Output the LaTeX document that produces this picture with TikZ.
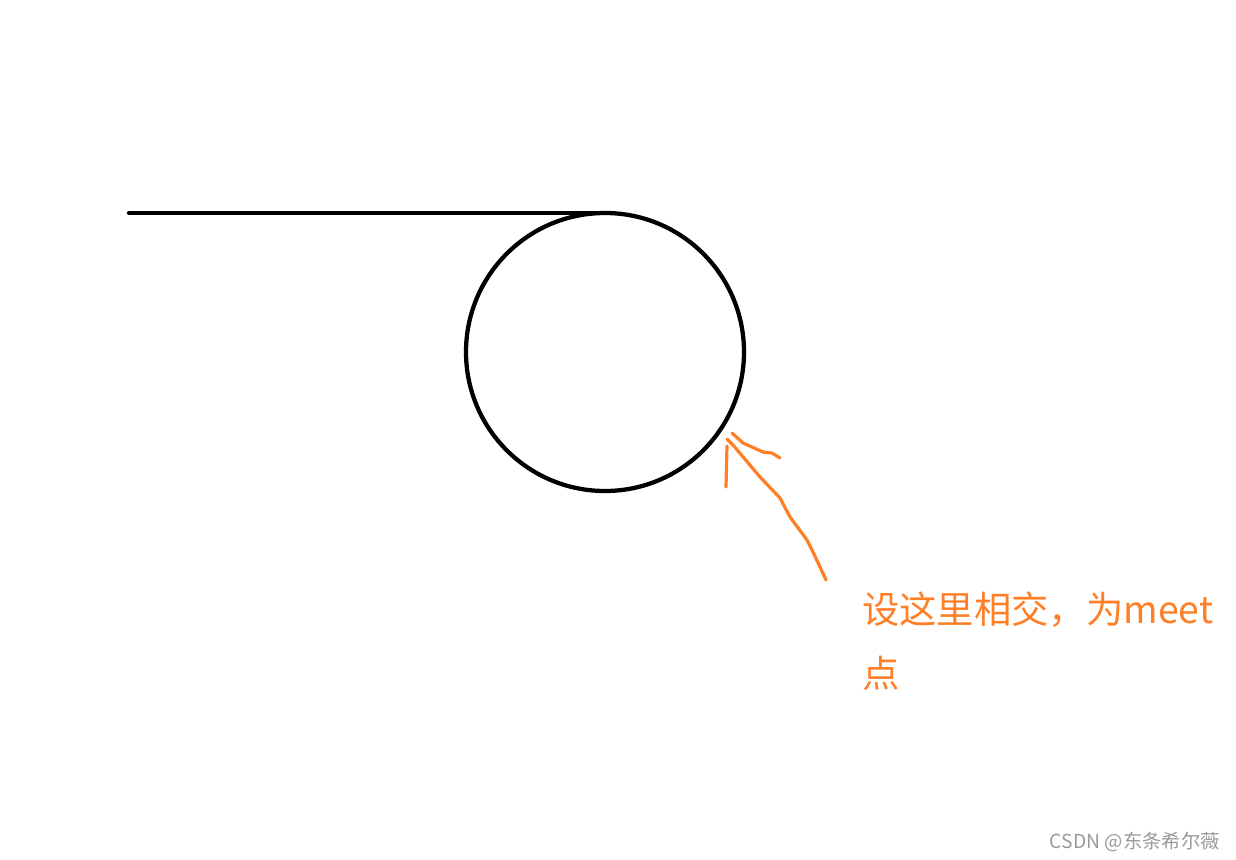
\documentclass[tikz,border=0pt]{standalone}
\usepackage{fontspec}
\newfontfamily\cjk{Noto Sans CJK SC}
\definecolor{paintorange}{HTML}{FF7F27}
\definecolor{markgray}{HTML}{9A9A9A}
\tikzset{
  stroke/.style={line width=3.2pt,line cap=round,black},
  pen/.style={line width=2.4pt,line cap=round,line join=round,paintorange}
}

\begin{document}
\begin{tikzpicture}[x=0.75pt,y=-0.75pt,font=\cjk]
  \useasboundingbox (0,0) rectangle (1236,860);
  \def\r{139}
  % the ring and the straight track meeting it on top
  \coordinate (c) at (605,352);
  \coordinate (start) at (129,213);
  \coordinate (top) at (605,213);
  \draw[stroke] (start) -- (top);
  \draw[stroke] (c) circle (\r);
  % hand drawn arrow
  \coordinate (meet) at (727,439);
  \coordinate (tail) at (826,580);
  \draw[pen] (meet) -- (733,445) -- (760,477) -- (780,498) -- (790,517)
    -- (807,540) -- (812,550) -- (820,567) -- (tail);
  \draw[pen] (732,433) -- (743,443) -- (763,452) -- (772,453) -- (780,458);
  \draw[pen] (727,446) -- (726,487);
  \node[anchor=base west,inner sep=0pt,paintorange,align=left,
        font=\cjk\fontsize{28}{48}\selectfont] (note) at (862,687)
    {设这里相交，为meet\\点};
  \node[anchor=base east,inner sep=0pt,markgray,
        font=\cjk\fontsize{14.5}{16}\selectfont] (mark) at (1220,848)
    {CSDN @东条希尔薇};
\end{tikzpicture}
\end{document}
